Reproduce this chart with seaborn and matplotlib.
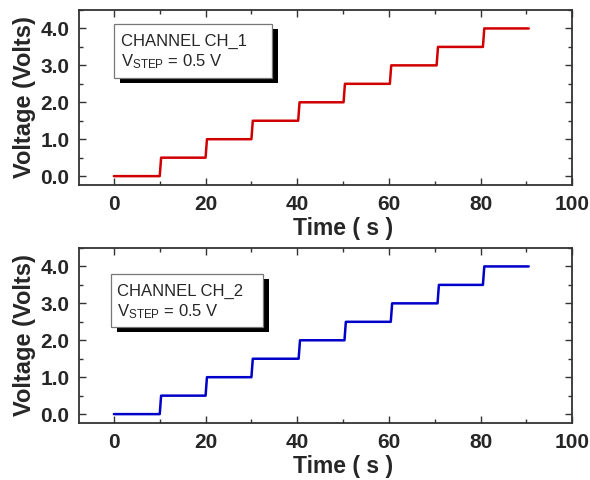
import matplotlib
matplotlib.use("Agg")
import matplotlib.pyplot as plt
import matplotlib.patheffects as pe
from matplotlib.patches import Rectangle
from matplotlib.ticker import MultipleLocator
import seaborn as sns
import pandas as pd

# step data
time_ch1 = [0, 10.0, 10.3, 20.0, 20.3, 30.0, 30.3, 40.2, 40.5, 50.1, 50.4,
            60.2, 60.5, 70.4, 70.7, 80.5, 80.8, 90.5]
volt_ch1 = [0, 0, 0.5, 0.5, 1.0, 1.0, 1.5, 1.5, 2.0, 2.0, 2.5,
            2.5, 3.0, 3.0, 3.5, 3.5, 4.0, 4.0]
time_ch2 = [0, 10.0, 10.3, 20.0, 20.3, 30.0, 30.3, 40.3, 40.6, 50.3, 50.6,
            60.4, 60.7, 70.6, 70.9, 80.5, 80.8, 90.5]
volt_ch2 = [0, 0, 0.5, 0.5, 1.0, 1.0, 1.5, 1.5, 2.0, 2.0, 2.5,
            2.5, 3.0, 3.0, 3.5, 3.5, 4.0, 4.0]

channels = ["CH_1", "CH_2"]
colors = ["#d00000", "#0000c8"]
x_ticks = [0, 20, 40, 60, 80, 100]
y_ticks = [0.0, 1.0, 2.0, 3.0, 4.0]

sns.set_style("ticks")
plt.rcParams["font.family"] = ["Liberation Sans", "DejaVu Sans"]
plt.rcParams["mathtext.default"] = "regular"


def draw_panel(ax, t, v, ch, color, box_rect, text_xy):
    df = pd.DataFrame({"t": t, "v": v})
    sns.lineplot(data=df, x="t", y="v", ax=ax, sort=False, color=color,
                 linewidth=1.8, estimator=None)
    ax.set_xlim(-7.6, 100)
    ax.set_ylim(-0.24, 4.5)
    ax.set_xticks(x_ticks)
    ax.set_yticks(y_ticks)
    ax.set_xticklabels([str(x) for x in x_ticks], fontsize=15, fontweight="bold")
    ax.set_yticklabels([f"{y:.1f}" for y in y_ticks], fontsize=15, fontweight="bold")
    ax.xaxis.set_minor_locator(MultipleLocator(10))
    ax.yaxis.set_minor_locator(MultipleLocator(0.5))
    ax.tick_params(which="both", direction="in", top=True, right=True,
                   color="#333333", width=1.0)
    ax.tick_params(which="major", length=5, pad=7)
    ax.tick_params(which="minor", length=3)
    for s in ax.spines.values():
        s.set_linewidth(1.3)
        s.set_color("#333333")
    ax.set_xlabel("Time ( s )", fontsize=16.5, fontweight="bold")
    ax.set_ylabel("Voltage (Volts)", fontsize=17, fontweight="bold", labelpad=3)
    # label sits under the 0-100 data span, not the axes centre
    ax.xaxis.set_label_coords(0.535, -0.185, transform=ax.transAxes)
    ax.xaxis.label.set_va("top")

    box = Rectangle(box_rect[:2], box_rect[2], box_rect[3], transform=ax.transAxes,
                    facecolor="white", edgecolor="#777777", linewidth=0.9,
                    zorder=5)
    box.set_path_effects([pe.SimplePatchShadow(offset=(4.5, -3.5),
                                               shadow_rgbFace="black", alpha=1),
                          pe.Normal()])
    ax.add_patch(box)
    tx, ty = text_xy
    ax.text(tx, ty, f"CHANNEL {ch}", transform=ax.transAxes,
            fontsize=12, va="baseline", zorder=6)
    ax.text(tx, ty - 0.115, r"V$_{STEP}$ = 0.5 V", transform=ax.transAxes,
            fontsize=12, va="baseline", zorder=6)


fig = plt.figure(figsize=(5.9, 4.8), dpi=100)
ax1 = fig.add_axes([0.134, 0.6146, 0.836, 0.3646])
ax2 = fig.add_axes([0.134, 0.1188, 0.836, 0.3646])

draw_panel(ax1, time_ch1, volt_ch1, channels[0], colors[0],
           (0.071, 0.611, 0.32, 0.309), (0.086, 0.795))
draw_panel(ax2, time_ch2, volt_ch2, channels[1], colors[1],
           (0.065, 0.549, 0.308, 0.303), (0.077, 0.727))

fig.savefig("out.png", dpi=100)
